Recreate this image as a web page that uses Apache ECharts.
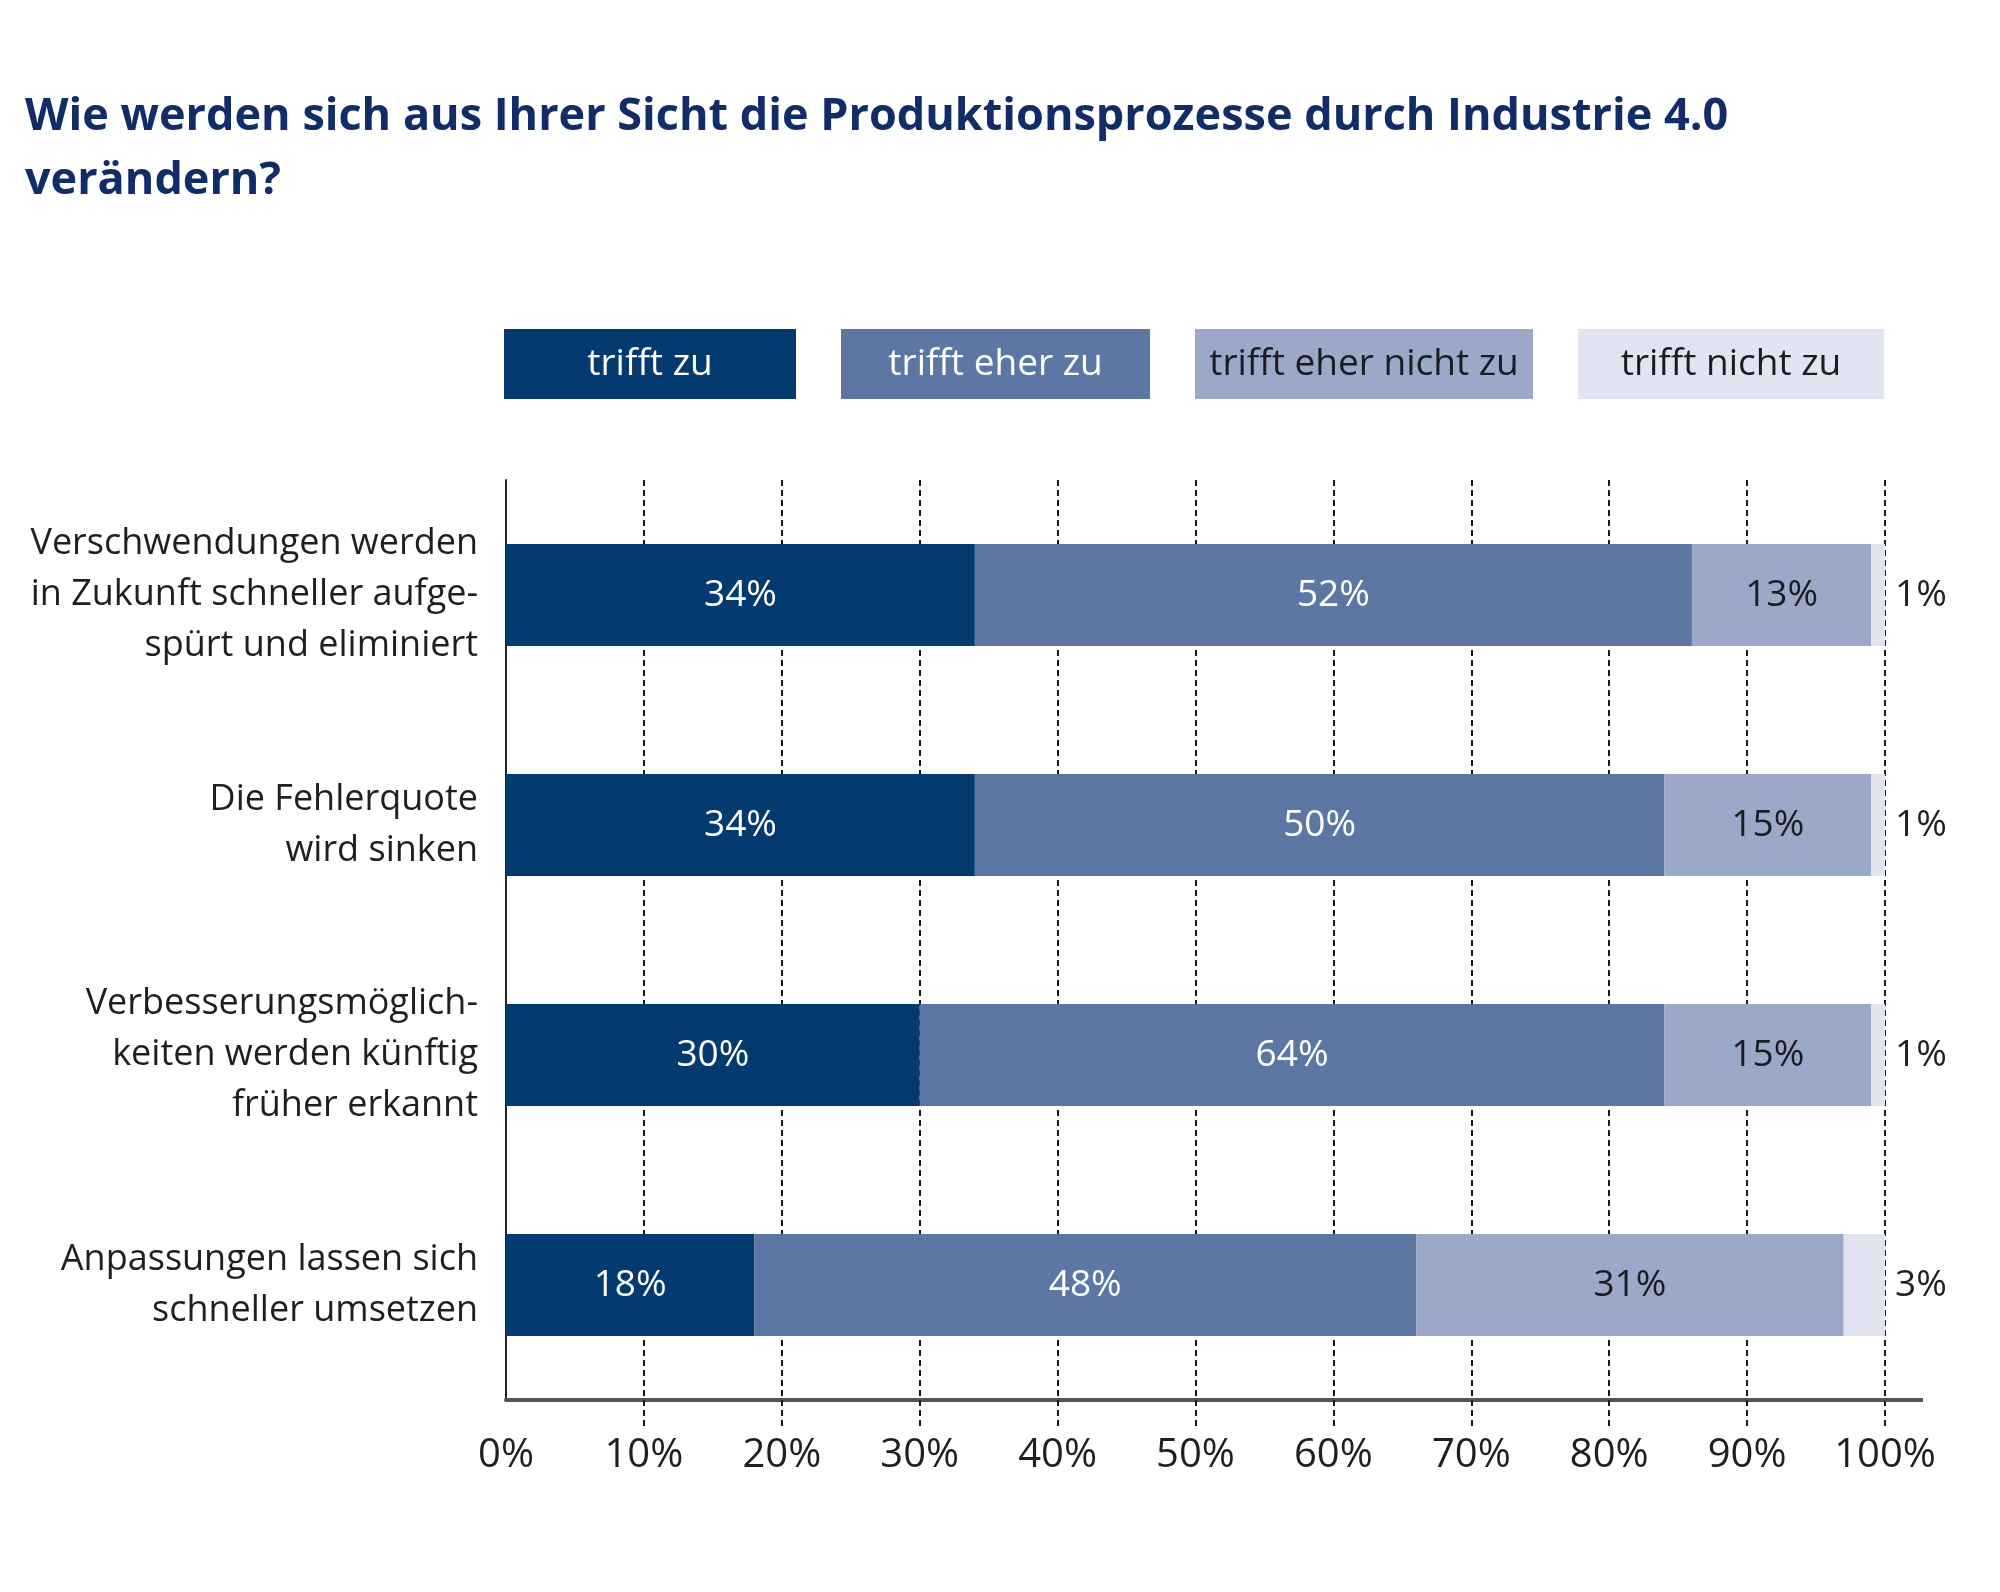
<!DOCTYPE html>
<html lang="de">
<head>
    <meta charset="UTF-8">
    <title>Industrie 4.0 Produktionsprozesse</title>
    <script src="https://cdn.jsdelivr.net/npm/echarts@6/dist/echarts.min.js"></script>
    <style>
        html, body { margin: 0; padding: 0; background: #fff; }
    </style>
</head>
<body>
    <div id="main" style="width: 2000px;height: 1592px;"></div>
<script>
    // Kategorien (von oben nach unten)
    var categories = [
        'Verschwendungen werden\nin Zukunft schneller aufge-\nspürt und eliminiert',
        'Die Fehlerquote\nwird sinken',
        'Verbesserungsmöglich-\nkeiten werden künftig\nfrüher erkannt',
        'Anpassungen lassen sich\nschneller umsetzen'
    ];
    var seriesNames = ['trifft zu', 'trifft eher zu', 'trifft eher nicht zu', 'trifft nicht zu'];

    // Balkenlängen wie im Bild gezeichnet
    var trifftZu = [34, 34, 30, 18];
    var trifftEherZu = [52, 50, 54, 48];
    var trifftEherNichtZu = [13, 15, 15, 31];
    var trifftNichtZu = [1, 1, 1, 3];
    // aufgedruckte Werte "trifft eher zu" (Zeile 3 zeigt 64 %)
    var trifftEherZuPrinted = [52, 50, 64, 48];

    var xTicks = [10, 20, 30, 40, 50, 60, 70, 80, 90, 100];

    var colors = ['#033a6f', '#5c77a4', '#9ba8c8', '#e2e5f1'];
    var font = 'Open Sans';

    var myChart = echarts.init(document.getElementById('main'));

    var legendBoxes = [
        { w: 292, bg: colors[0], fg: '#ffffff' },
        { w: 309, bg: colors[1], fg: '#ffffff' },
        { w: 338, bg: colors[2], fg: '#1b1b24' },
        { w: 306, bg: colors[3], fg: '#1b1b24' }
    ];
    var legendRich = {};
    legendBoxes.forEach(function (b, i) {
        legendRich['l' + i] = {
            width: b.w, height: 70, lineHeight: 70, align: 'center',
            backgroundColor: b.bg, color: b.fg, fontSize: 37, fontFamily: font
        };
    });

    function barSeries(idx, values, labelColor, pos, printed) {
        return {
            name: seriesNames[idx],
            type: 'bar',
            stack: 'total',
            barWidth: 102,
            data: values,
            itemStyle: { color: colors[idx] },
            label: {
                show: true,
                position: pos,
                distance: 10,
                color: labelColor,
                fontSize: 37,
                fontFamily: font,
                formatter: function (p) {
                    var v = printed ? printed[p.dataIndex] : p.value;
                    return v + '%';
                }
            }
        };
    }

    myChart.setOption({
        backgroundColor: '#ffffff',
        animation: false,
        title: {
            text: 'Wie werden sich aus Ihrer Sicht die Produktionsprozesse durch Industrie 4.0\nverändern?',
            left: 20,
            top: 80,
            textStyle: {
                fontFamily: font,
                fontSize: 45,
                fontWeight: 'bold',
                color: '#122c68',
                lineHeight: 64
            }
        },
        legend: {
            data: seriesNames,
            left: 499,
            top: 329,
            padding: 0,
            itemGap: 40,
            itemWidth: 0,
            itemHeight: 0,
            icon: 'none',
            selectedMode: false,
            formatter: function (name) {
                return '{l' + seriesNames.indexOf(name) + '|' + name + '}';
            },
            textStyle: { rich: legendRich }
        },
        grid: {
            left: 506,
            right: 115,
            top: 480,
            bottom: 192
        },
        xAxis: {
            type: 'value',
            min: 0,
            max: 100,
            interval: 10,
            axisLine: {
                show: true,
                lineStyle: { color: '#555555', width: 4 },
                symbol: ['none', 'rect'],
                symbolSize: [4, 38],
                symbolOffset: [0, 19]
            },
            axisTick: {
                show: true,
                length: 26,
                customValues: xTicks,
                lineStyle: { color: '#1a1a1a', width: 2, type: [6, 4] }
            },
            splitLine: {
                show: true,
                lineStyle: { color: '#1a1a1a', width: 2, type: [6, 4] }
            },
            axisLabel: {
                margin: 36,
                color: '#1f1f1f',
                fontSize: 40,
                fontFamily: font,
                formatter: '{value}%'
            }
        },
        yAxis: {
            type: 'category',
            inverse: true,
            data: categories,
            axisLine: { show: true, lineStyle: { color: '#222222', width: 2 } },
            axisTick: { show: false },
            axisLabel: {
                margin: 28,
                color: '#1f1f1f',
                fontSize: 36,
                lineHeight: 51,
                fontFamily: font
            }
        },
        series: [
            barSeries(0, trifftZu, '#ffffff', 'inside'),
            barSeries(1, trifftEherZu, '#ffffff', 'inside', trifftEherZuPrinted),
            barSeries(2, trifftEherNichtZu, '#1b1b24', 'inside'),
            barSeries(3, trifftNichtZu, '#1f1f1f', 'right')
        ]
    });
</script>
</body>
</html>
